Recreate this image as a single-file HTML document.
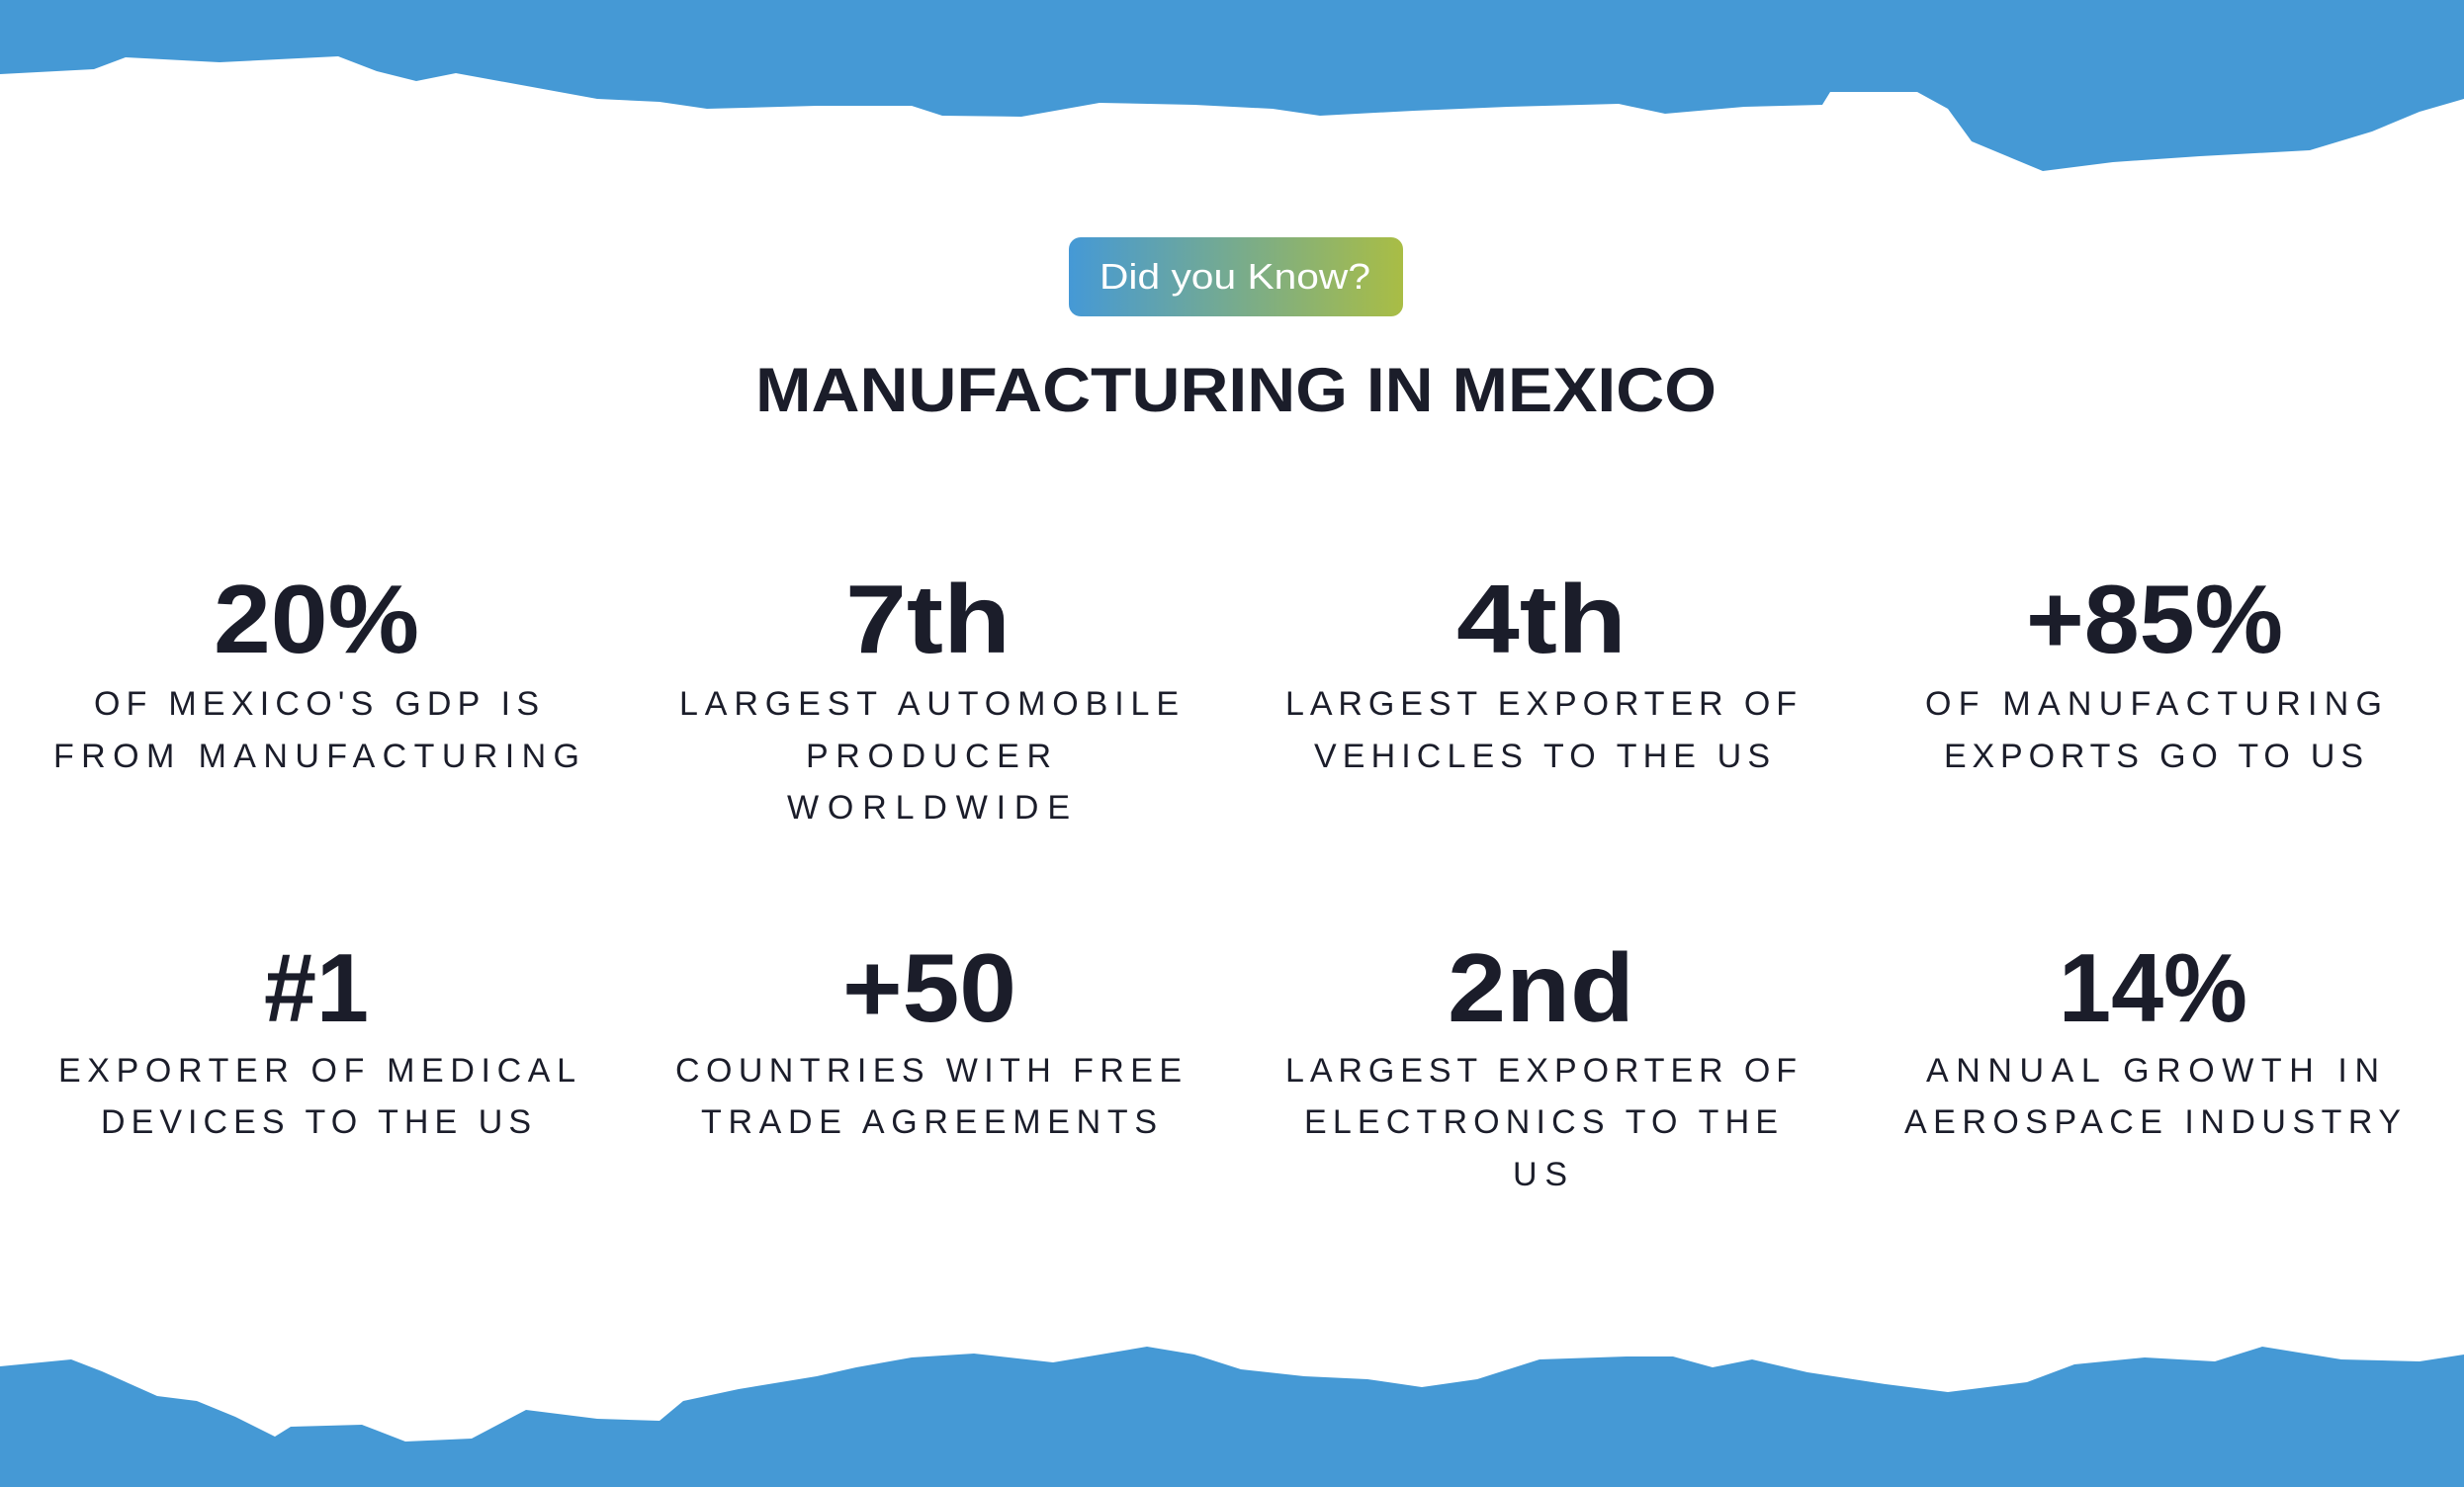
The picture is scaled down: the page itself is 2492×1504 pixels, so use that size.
<!DOCTYPE html>
<html><head><meta charset="utf-8"><style>
html,body{margin:0;padding:0;background:#fff;width:2492px;height:1504px;overflow:hidden}
svg{display:block}
.d{font-family:"Liberation Sans",sans-serif;font-size:34px;fill:#1b1d2a}
.n{font-family:"Liberation Sans",sans-serif;font-size:98px;font-weight:bold;fill:#1b1d2a}
</style></head><body>
<svg width="2492" height="1504" viewBox="0 0 2492 1504" xmlns="http://www.w3.org/2000/svg">
<defs><linearGradient id="g" x1="0" x2="1" y1="0" y2="0"><stop offset="0" stop-color="#4599d6"/><stop offset="1" stop-color="#a9bd45"/></linearGradient></defs>
<path fill="#4599d5" d="M0,0 H2492 V100 L2447,113 2399,133 2336,152 2225,158 2137,164 2066,173 1994,143 1970,110 1939,93 1851,93 1843,106 1764,108 1684,115 1637,105 1525,108 1430,112 1335,117 1287,110 1208,106 1112,104 1033,118 953,117 922,107 826,107 715,110 667,103 604,100 461,74 421,82 381,72 342,57 222,63 127,58 95,70 0,75 Z"/>
<path fill="#4599d5" d="M0,1504 V1382 L72,1375 103,1387 159,1412 199,1417 238,1433 278,1453 294,1443 366,1441 410,1458 477,1455 532,1426 604,1435 667,1437 691,1417 747,1405 826,1392 866,1383 922,1373 985,1369 1065,1378 1160,1362 1208,1370 1255,1385 1319,1392 1383,1395 1438,1403 1494,1395 1557,1375 1645,1372 1692,1372 1732,1383 1772,1375 1828,1388 1907,1400 1970,1408 2050,1398 2098,1380 2169,1373 2240,1377 2288,1362 2368,1375 2447,1377 2492,1370 V1504 Z"/>
<rect x="1081" y="240" width="338" height="80" rx="12" fill="url(#g)"/>
<text x="1112" y="292" font-family="Liberation Sans,sans-serif" font-size="36" fill="#fff" textLength="274" lengthAdjust="spacingAndGlyphs">Did you Know?</text>
<text x="764" y="416" font-family="Liberation Sans,sans-serif" font-size="63" font-weight="bold" fill="#1b1d2a" textLength="972" lengthAdjust="spacingAndGlyphs">MANUFACTURING IN MEXICO</text>

<text class="n" x="216" y="660" textLength="208" lengthAdjust="spacingAndGlyphs">20%</text>
<text class="n" x="855" y="660" textLength="167" lengthAdjust="spacingAndGlyphs">7th</text>
<text class="n" x="1473" y="660" textLength="172" lengthAdjust="spacingAndGlyphs">4th</text>
<text class="n" x="2049" y="660" textLength="260" lengthAdjust="spacingAndGlyphs">+85%</text>
<text class="n" x="267" y="1033" textLength="106" lengthAdjust="spacingAndGlyphs">#1</text>
<text class="n" x="852" y="1033" textLength="176" lengthAdjust="spacingAndGlyphs">+50</text>
<text class="n" x="1464" y="1033" textLength="189" lengthAdjust="spacingAndGlyphs">2nd</text>
<text class="n" x="2082" y="1033" textLength="191" lengthAdjust="spacingAndGlyphs">14%</text>

<text class="d" x="95" y="723" textLength="450" lengthAdjust="spacing">OF MEXICO'S GDP IS</text>
<text class="d" x="54" y="776" textLength="532" lengthAdjust="spacing">FROM MANUFACTURING</text>
<text class="d" x="687" y="723" textLength="505" lengthAdjust="spacing">LARGEST AUTOMOBILE</text>
<text class="d" x="815" y="776" textLength="248" lengthAdjust="spacing">PRODUCER</text>
<text class="d" x="796" y="828" textLength="286" lengthAdjust="spacing">WORLDWIDE</text>
<text class="d" x="1300" y="723" textLength="517" lengthAdjust="spacing">LARGEST EXPORTER OF</text>
<text class="d" x="1329" y="776" textLength="461" lengthAdjust="spacing">VEHICLES TO THE US</text>
<text class="d" x="1947" y="723" textLength="462" lengthAdjust="spacing">OF MANUFACTURING</text>
<text class="d" x="1966" y="776" textLength="424" lengthAdjust="spacing">EXPORTS GO TO US</text>

<text class="d" x="59" y="1094" textLength="523" lengthAdjust="spacing">EXPORTER OF MEDICAL</text>
<text class="d" x="102" y="1146" textLength="435" lengthAdjust="spacing">DEVICES TO THE US</text>
<text class="d" x="683" y="1094" textLength="512" lengthAdjust="spacing">COUNTRIES WITH FREE</text>
<text class="d" x="709" y="1146" textLength="461" lengthAdjust="spacing">TRADE AGREEMENTS</text>
<text class="d" x="1300" y="1094" textLength="517" lengthAdjust="spacing">LARGEST EXPORTER OF</text>
<text class="d" x="1319" y="1146" textLength="479" lengthAdjust="spacing">ELECTRONICS TO THE</text>
<text class="d" x="1530" y="1199" textLength="55" lengthAdjust="spacing">US</text>
<text class="d" x="1948" y="1094" textLength="458" lengthAdjust="spacing">ANNUAL GROWTH IN</text>
<text class="d" x="1926" y="1146" textLength="502" lengthAdjust="spacing">AEROSPACE INDUSTRY</text>
</svg>
</body></html>
